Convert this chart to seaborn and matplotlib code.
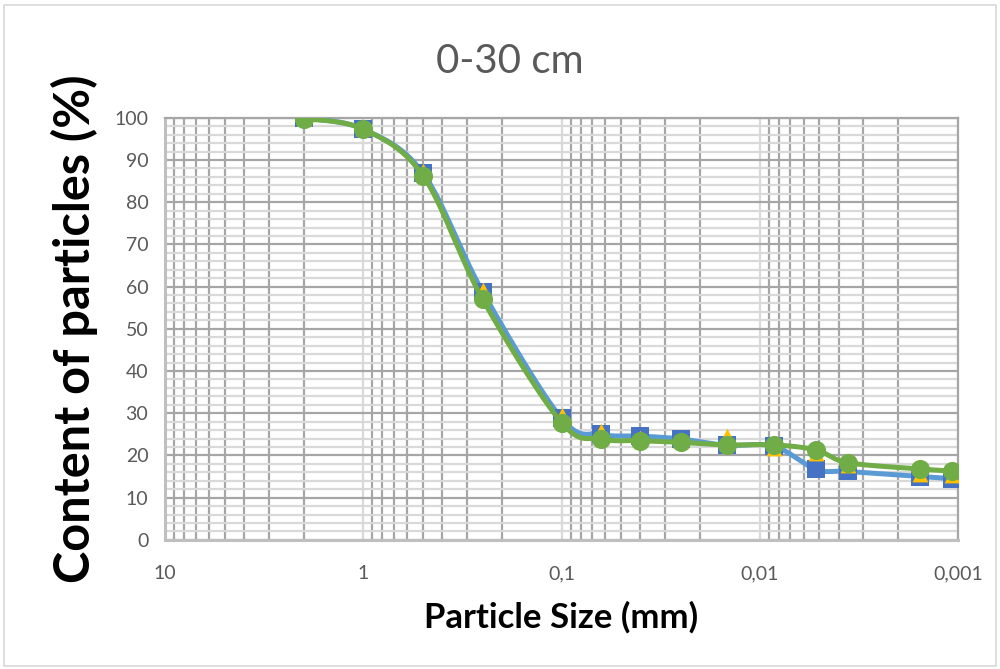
import numpy as np
import matplotlib
matplotlib.use("Agg")
import matplotlib.pyplot as plt
from matplotlib.ticker import FixedLocator, LogLocator, MultipleLocator, NullFormatter
import seaborn as sns

# particle size (mm) of each sieve / hydrometer reading
size_mm = [2, 1, 0.5, 0.25, 0.1, 0.063, 0.04, 0.025, 0.0147, 0.0085, 0.0052, 0.0036, 0.00155, 0.00107]
# three replicates (% passing)
rep_square = [100, 97.3, 86.9, 58.8, 28.8, 25.0, 24.6, 23.9, 22.4, 22.2, 16.7, 16.2, 15.0, 14.5]
rep_triangle = [100, 97.5, 87.4, 59.2, 29.6, 25.7, 24.2, 23.6, 24.5, 21.8, 20.6, 17.8, 15.6, 15.4]
rep_circle = [99.8, 97.3, 86.3, 57.0, 27.8, 23.9, 23.5, 23.1, 22.5, 22.5, 21.3, 18.3, 16.8, 16.3]

x_ticks = [10, 1, 0.1, 0.01, 0.001]
x_ticklabels = ["10", "1", "0,1", "0,01", "0,001"]

blue_line = "#5b9bd5"
blue_mark = "#4472c4"
yellow = "#ffc000"
green = "#70ad47"
dark_grid = "#a6a6a6"
light_grid = "#d9d9d9"
text_grey = "#595959"


def smooth(xs, ys, n=30):
    # excel style smoothed line: bezier segments with catmull-rom control points, in log-x space
    u = np.log10(np.asarray(xs, float))
    v = np.asarray(ys, float)
    pts = np.column_stack([u, v])
    pts = np.vstack([pts[0], pts, pts[-1]])
    out = []
    t = np.linspace(0, 1, n)[:, None]
    for i in range(1, len(pts) - 2):
        p0, p1, p2, p3 = pts[i - 1], pts[i], pts[i + 1], pts[i + 2]
        c1 = p1 + (p2 - p0) / 6
        c2 = p2 - (p3 - p1) / 6
        seg = (1 - t) ** 3 * p1 + 3 * (1 - t) ** 2 * t * c1 + 3 * (1 - t) * t ** 2 * c2 + t ** 3 * p2
        out.append(seg if i == 1 else seg[1:])
    out = np.vstack(out)
    return 10 ** out[:, 0], out[:, 1]


sns.set_theme(style="white")
plt.rcParams["font.family"] = ["Lato", "DejaVu Sans"]

fig = plt.figure(figsize=(10, 6.69), dpi=100)
ax = fig.add_axes([0.165, 0.193, 0.793, 0.631])

# series 1: blue squares
sx, sy = smooth(size_mm, rep_square)
sns.lineplot(x=sx, y=sy, sort=False, color=blue_line, linewidth=3.6, ax=ax, zorder=3)
sns.scatterplot(x=size_mm, y=rep_square, marker="s", s=150, color=blue_mark, edgecolor=blue_mark,
                linewidth=0, ax=ax, zorder=4)
# series 2: yellow triangles
sns.scatterplot(x=size_mm, y=rep_triangle, marker="^", s=130, color=yellow, edgecolor=yellow,
                linewidth=0, ax=ax, zorder=5)
# series 3: green circles
gx, gy = smooth(size_mm, rep_circle)
sns.lineplot(x=gx, y=gy, sort=False, color=green, linewidth=3.6, ax=ax, zorder=6)
sns.scatterplot(x=size_mm, y=rep_circle, marker="o", s=190, color=green, edgecolor=green,
                linewidth=0, ax=ax, zorder=7)

ax.set_xscale("log")
ax.set_xlim(10, 0.001)
ax.set_ylim(0, 100)

ax.xaxis.set_major_locator(FixedLocator(x_ticks))
ax.set_xticklabels(x_ticklabels)
ax.xaxis.set_minor_locator(LogLocator(base=10, subs=np.arange(2, 10)))
ax.xaxis.set_minor_formatter(NullFormatter())
ax.yaxis.set_major_locator(MultipleLocator(10))
ax.yaxis.set_minor_locator(MultipleLocator(2))

ax.grid(which="major", axis="x", color=light_grid, linewidth=1.6, zorder=0)
ax.grid(which="minor", axis="x", color=dark_grid, linewidth=1.6, zorder=0)
ax.grid(which="major", axis="y", color=dark_grid, linewidth=1.6, zorder=0)
ax.grid(which="minor", axis="y", color=light_grid, linewidth=1.6, zorder=0)
ax.set_axisbelow(True)

ax.tick_params(which="both", length=0, labelsize=14, labelcolor=text_grey)
ax.tick_params(axis="x", pad=18)
ax.tick_params(axis="y", pad=12)

for side in ["top", "right"]:
    ax.spines[side].set_color(dark_grid)
    ax.spines[side].set_linewidth(1.6)
for side in ["left", "bottom"]:
    ax.spines[side].set_color("#bfbfbf")
    ax.spines[side].set_linewidth(2.2)

fig.text(0.51, 0.908, "0-30 cm", ha="center", va="center", fontsize=29, color=text_grey)
ax.set_xlabel("Particle Size (mm)", fontsize=25, fontweight="bold", color="black", labelpad=14)
ax.set_ylabel("Content of particles (%)", fontsize=35, fontweight="bold", color="black", labelpad=12)

# chart area border
fig.patches.append(plt.Rectangle((0.004, 0.004), 0.992, 0.989, transform=fig.transFigure,
                                 fill=False, edgecolor=light_grid, linewidth=1.2))

fig.savefig("out.png", dpi=100)
